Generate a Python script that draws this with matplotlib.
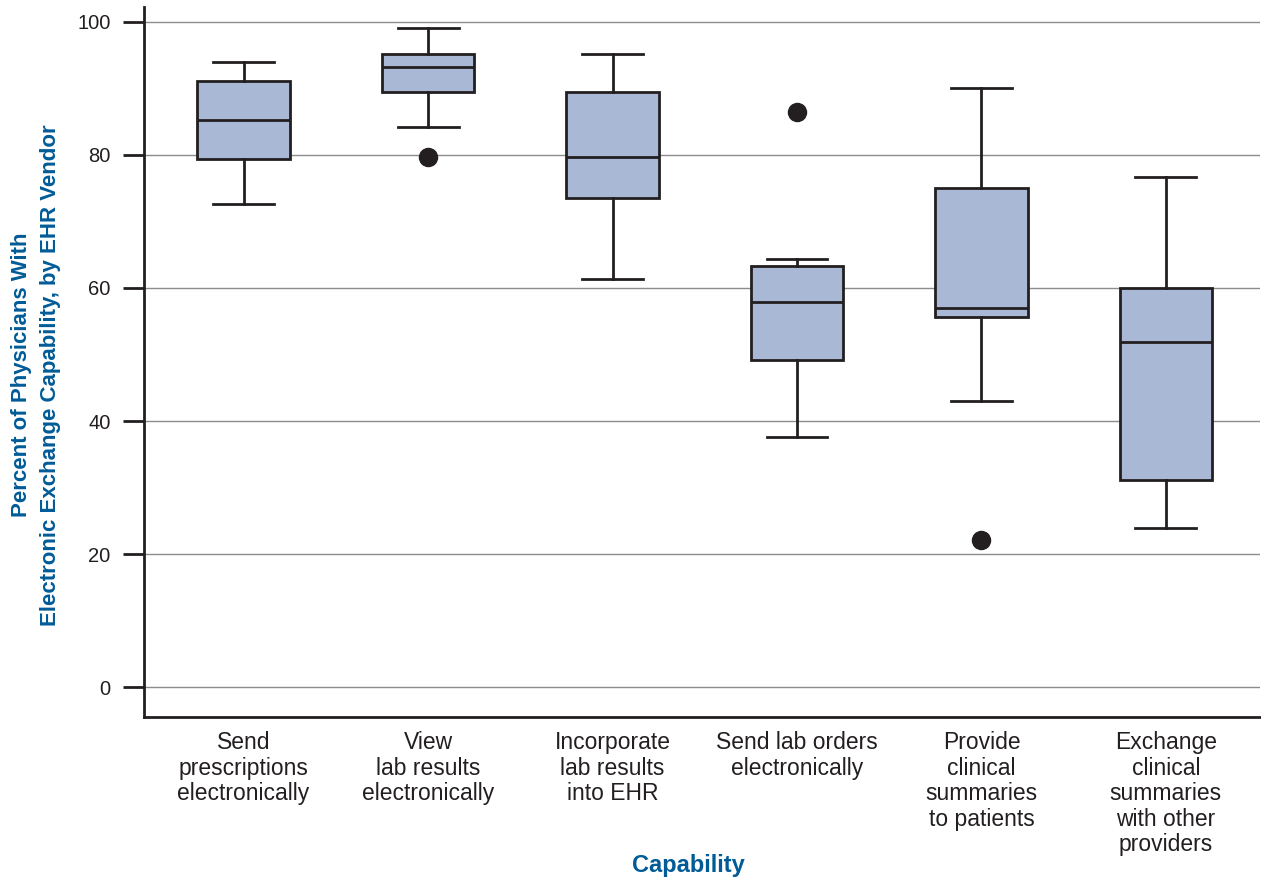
import matplotlib.pyplot as plt

plt.rcParams['font.family'] = ['Liberation Sans', 'DejaVu Sans']

# capability categories (x tick labels)
categories = ['Send\nprescriptions\nelectronically',
              'View\nlab results\nelectronically',
              'Incorporate\nlab results\ninto EHR',
              'Send lab orders\nelectronically',
              'Provide\nclinical\nsummaries\nto patients',
              'Exchange\nclinical\nsummaries\nwith other\nproviders']

# box statistics
whisker_low = [72.6, 84.2, 61.4, 37.6, 43.0, 23.9]
q1 = [79.4, 89.5, 73.5, 49.2, 55.6, 31.1]
median = [85.3, 93.2, 79.7, 57.9, 57.0, 51.9]
q3 = [91.1, 95.2, 89.5, 63.3, 75.0, 60.0]
whisker_high = [94.0, 99.1, 95.2, 64.4, 90.1, 76.7]
outliers = [[], [79.7], [], [86.5], [22.1], []]

edge = '#231f20'
fill = '#a9b9d5'
blue = '#005b97'

stats = []
for i in range(len(categories)):
    stats.append({'whislo': whisker_low[i], 'q1': q1[i], 'med': median[i],
                  'q3': q3[i], 'whishi': whisker_high[i], 'fliers': outliers[i]})

fig = plt.figure(figsize=(12.61, 8.8), dpi=100)
ax = fig.add_axes([0.1142, 0.185, 0.885, 0.807])

ax.yaxis.grid(True, color='#8c8c8c', linewidth=1.0, zorder=0)
ax.set_axisbelow(True)

positions = list(range(1, len(categories) + 1))
ax.bxp(stats, positions=positions, widths=0.5, capwidths=0.33, patch_artist=True,
       boxprops=dict(facecolor=fill, edgecolor=edge, linewidth=2.0),
       medianprops=dict(color=edge, linewidth=2.0),
       whiskerprops=dict(color=edge, linewidth=2.0),
       capprops=dict(color=edge, linewidth=2.0),
       flierprops=dict(marker='o', markerfacecolor=edge, markeredgecolor=edge, markersize=13))

ax.set_xlim(0.46, 6.51)
ax.set_ylim(-4.5, 102.2)
ax.set_yticks([0, 20, 40, 60, 80, 100])
ax.set_xticks(positions)
ax.set_xticklabels(categories, fontsize=16.5, color=edge, linespacing=1.14)
ax.tick_params(axis='x', length=0, pad=10)
ax.tick_params(axis='y', labelsize=14.5, labelcolor=edge, length=15, width=2, color=edge, pad=9)

for s in ['top', 'right']:
    ax.spines[s].set_visible(False)
for s in ['left', 'bottom']:
    ax.spines[s].set_linewidth(2)
    ax.spines[s].set_color(edge)

ax.set_xlabel('Capability', fontsize=17, fontweight='bold', color=blue)
ax.xaxis.set_label_coords(0.4875, -0.193)
ax.set_ylabel('Percent of Physicians With\nElectronic Exchange Capability, by EHR Vendor',
              fontsize=16, fontweight='bold', color=blue, labelpad=12, linespacing=1.45)
ax.yaxis.label.set_y(0.482)

fig.savefig('out.png', dpi=100)
